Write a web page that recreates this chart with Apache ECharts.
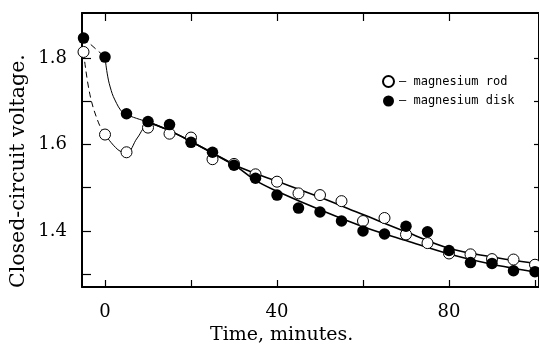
<!DOCTYPE html>
<html>
<head>
<meta charset="utf-8">
<script src="https://cdn.jsdelivr.net/npm/echarts@6/dist/echarts.min.js"></script>
<style>
html,body{margin:0;padding:0;background:#fff;}
#chart{width:539px;height:345px;}
</style>
</head>
<body>
<div id="chart"></div>
<script>
// ---- data ----
const timeMin = [-5, 0, 5, 10, 15, 20, 25, 30, 35, 40, 45, 50, 55, 60, 65, 70, 75, 80, 85, 90, 95, 100];
const rodVolts = [1.814, 1.623, 1.582, 1.639, 1.625, 1.616, 1.566, 1.555, 1.531, 1.514, 1.487, 1.483, 1.469, 1.423, 1.430, 1.392, 1.372, 1.348, 1.346, 1.335, 1.334, 1.322];
const diskVolts = [1.846, 1.802, 1.671, 1.653, 1.646, 1.605, 1.582, 1.552, 1.522, 1.483, 1.453, 1.444, 1.423, 1.400, 1.393, 1.411, 1.398, 1.355, 1.327, 1.325, 1.308, 1.306];

// drawn curves (hand-fitted in the original figure)
const rodDashT = [-5, -3.5, -1.5, 0];
const rodDashV = [1.814, 1.715, 1.650, 1.623];
const rodBendT = [0, 3, 5, 7.5, 10, 12];
const rodBendV = [1.623, 1.588, 1.581, 1.615, 1.645, 1.646];
const diskDashT = [-5, 0];
const diskDashV = [1.846, 1.802];
const diskBendT = [0, 0.5, 1.2, 2.3, 4.2, 6, 10];
const diskBendV = [1.802, 1.765, 1.733, 1.703, 1.673, 1.665, 1.652];
const rodFitT = [10, 15, 20, 25, 30, 35, 40, 50, 60, 70, 80, 90, 100, 101];
const rodFitV = [1.652, 1.632, 1.607, 1.580, 1.553, 1.533, 1.515, 1.478, 1.438, 1.398, 1.360, 1.340, 1.325, 1.324];
const diskFitT = [10, 15, 20, 25, 30, 35, 40, 50, 60, 70, 80, 90, 100, 101];
const diskFitV = [1.652, 1.632, 1.607, 1.580, 1.553, 1.517, 1.492, 1.449, 1.410, 1.378, 1.347, 1.323, 1.305, 1.303];

const xTicks = [0, 20, 40, 60, 80, 100];
const xTopTicks = [0, 20, 40, 60, 80];
const xLabels = [0, 40, 80];
const yTicks = [1.3, 1.4, 1.5, 1.6, 1.7, 1.8];
const yLabels = [1.4, 1.6, 1.8];

const seriesNames = ['magnesium rod', 'magnesium disk'];
const xName = 'Time, minutes.';
const yName = 'Closed-circuit voltage.';

const zip = (a, b) => a.map((v, i) => [v, b[i]]);

const serif = 'DejaVu Serif';
const chart = echarts.init(document.getElementById('chart'));

function lineSeries(t, v, width, dashed) {
  return {
    type: 'line', data: zip(t, v), smooth: 0.4, showSymbol: false, silent: true,
    xAxisIndex: 0, yAxisIndex: 0, z: 2,
    lineStyle: { color: '#000', width: width, type: dashed ? [6, 4] : 'solid' }
  };
}

chart.setOption({
  animation: false,
  backgroundColor: '#fff',
  grid: { left: 82, right: 0, top: 13, bottom: 58 },
  xAxis: [
    {
      type: 'value', position: 'bottom', min: -5.35, max: 100.93,
      axisLine: { show: true, onZero: false, lineStyle: { color: '#000', width: 2 } },
      axisTick: { show: true, inside: true, length: 7, customValues: xTicks, lineStyle: { color: '#000', width: 1.2 } },
      axisLabel: { customValues: xLabels, margin: 16, color: '#000', fontFamily: serif, fontSize: 18 },
      splitLine: { show: false }
    },
    {
      type: 'value', position: 'top', min: -5.35, max: 100.93,
      axisLine: { show: true, onZero: false, lineStyle: { color: '#000', width: 2 } },
      axisTick: { show: true, inside: true, length: 8, customValues: xTopTicks, lineStyle: { color: '#000', width: 1.2 } },
      axisLabel: { show: false },
      splitLine: { show: false }
    }
  ],
  yAxis: [
    {
      type: 'value', position: 'left', min: 1.2705, max: 1.904,
      axisLine: { show: true, onZero: false, lineStyle: { color: '#000', width: 2 } },
      axisTick: { show: true, inside: true, length: 9, customValues: yTicks, lineStyle: { color: '#000', width: 1.2 } },
      axisLabel: { customValues: yLabels, margin: 15, color: '#000', fontFamily: serif, fontSize: 18,
        formatter: v => Number(v).toFixed(1) },
      splitLine: { show: false }
    },
    {
      type: 'value', position: 'right', min: 1.2705, max: 1.904,
      axisLine: { show: true, onZero: false, lineStyle: { color: '#000', width: 2 } },
      axisTick: { show: true, inside: true, length: 5, customValues: yTicks, lineStyle: { color: '#000', width: 1.2 } },
      axisLabel: { show: false },
      splitLine: { show: false }
    }
  ],
  legend: {
    data: seriesNames, orient: 'vertical', left: 377, top: 70, itemGap: 7,
    itemWidth: 11, itemHeight: 11, icon: 'circle',
    formatter: n => '– ' + n,
    textStyle: { fontFamily: 'DejaVu Sans Mono', fontSize: 12, color: '#000' }
  },
  graphic: [
    { type: 'text', left: 210, top: 326, style: { text: xName, font: '19px "DejaVu Serif"', fill: '#000' } },
    { type: 'text', rotation: Math.PI / 2, x: 19, y: 288,
      style: { text: yName, font: '20.5px "DejaVu Serif"', fill: '#000', textAlign: 'left', textVerticalAlign: 'middle' } }
  ],
  series: [
    lineSeries(rodDashT, rodDashV, 1, true),
    lineSeries(diskDashT, diskDashV, 1, true),
    lineSeries(rodBendT, rodBendV, 1, false),
    lineSeries(diskBendT, diskBendV, 1, false),
    lineSeries(rodFitT, rodFitV, 1.6, false),
    lineSeries(diskFitT, diskFitV, 1.6, false),
    {
      name: seriesNames[0], type: 'scatter', data: zip(timeMin, rodVolts), symbol: 'circle', symbolSize: 11,
      clip: false, z: 4,
      itemStyle: { color: '#fff', borderColor: '#000', borderWidth: 1, opacity: 1 }
    },
    {
      name: seriesNames[1], type: 'scatter', data: zip(timeMin, diskVolts), symbol: 'circle', symbolSize: 11.5,
      clip: false, z: 5,
      itemStyle: { color: '#000', borderColor: '#000', borderWidth: 0, opacity: 1 }
    }
  ]
});
</script>
</body>
</html>
